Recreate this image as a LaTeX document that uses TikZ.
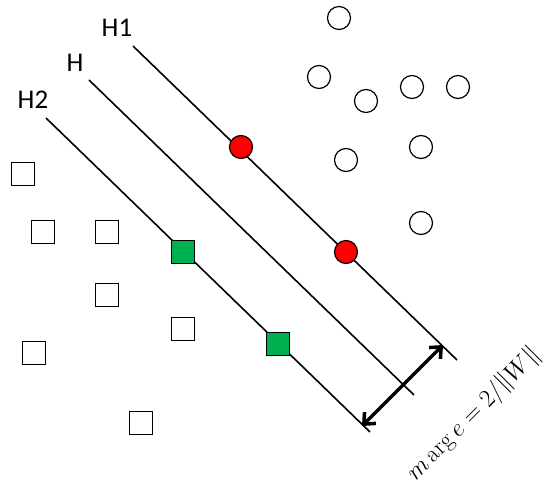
\documentclass[tikz,border=0pt]{standalone}
\usepackage{fontspec}
\newfontfamily\labelfont{Carlito}
\usepackage{amsmath}
\usetikzlibrary{arrows.meta}
\tikzset{
  hyper/.style={line width=1.6pt},
  lbl/.style={font=\labelfont\fontsize{27}{30}\selectfont, inner sep=0pt},
  classA/.style={circle, draw, line width=1.2pt, minimum size=23pt, inner sep=0pt, fill=white},
  classB/.style={rectangle, draw, line width=1.2pt, minimum size=23pt, inner sep=0pt, fill=white},
  svA/.style={classA, fill=red},
  svB/.style={classB, fill={rgb,255:red,0;green,176;blue,80}}
}
\begin{document}
\begin{tikzpicture}[x=1pt, y=-1pt]
  \useasboundingbox (0,0) rectangle (547,495);
  % hyperplanes
  \coordinate (h1s) at (133,46);  \coordinate (h1e) at (457,360);
  \coordinate (hs)  at (89,80);   \coordinate (he)  at (414,395);
  \coordinate (h2s) at (46,118);  \coordinate (h2e) at (370,432);
  \draw[hyper] (h1s) -- (h1e);
  \draw[hyper] (hs) -- (he);
  \draw[hyper] (h2s) -- (h2e);
  \node[lbl] (lh1) at (117,28) {H1};
  \node[lbl] (lh)  at (75,63)  {H};
  \node[lbl] (lh2) at (33,100) {H2};
  % circles
  \foreach \x/\y [count=\i] in {339/18, 319/77, 366/101, 412/87, 458/87, 346/160, 421/147, 421/223}
    { \node[classA] (c\i) at (\x,\y) {}; }
  % squares
  \foreach \x/\y [count=\i] in {23/174, 43/232, 107/232, 107/295, 183/329, 34/353, 141/423}
    { \node[classB] (s\i) at (\x,\y) {}; }
  % support vectors
  \node[svA] (r1) at (241,147) {};
  \node[svA] (r2) at (346,252) {};
  \node[svB] (g1) at (183,252) {};
  \node[svB] (g2) at (278,344) {};
  % margin
  \coordinate (m1) at (362,426);
  \coordinate (m2) at (443,345);
  \draw[line width=3.5pt, {Straight Barb[length=9pt, width=16pt]}-{Straight Barb[length=9pt, width=16pt]}] (m1) -- (m2);
  \node[rotate=45, font=\fontsize{24}{28}\selectfont] (mlbl) at (474,414) {$m\arg e = 2/\|W\|$};
\end{tikzpicture}
\end{document}
